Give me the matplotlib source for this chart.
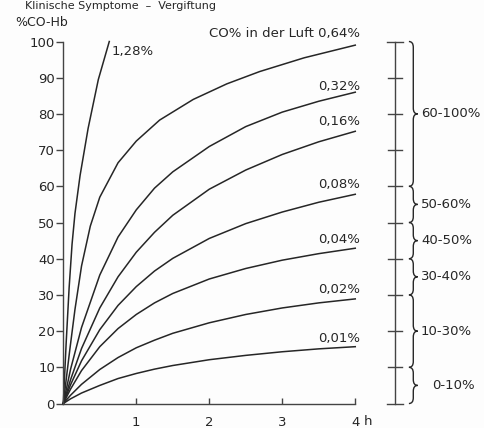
import matplotlib.pyplot as plt
from matplotlib.path import Path
from matplotlib.patches import PathPatch
from matplotlib.transforms import blended_transform_factory

# time in hours and %CO-Hb
t_128 = [0, 0.04, 0.08, 0.12, 0.16, 0.23, 0.34, 0.48, 0.63]
v_128 = [0, 17, 32, 44, 52.5, 63, 76, 89.5, 100]

t_064 = [0, 0.09, 0.16, 0.25, 0.37, 0.5, 0.75, 1.0, 1.32, 1.78, 2.24, 2.69, 3.3, 4.0]
v_064 = [0, 15, 26, 38, 49, 57, 66.5, 72.5, 78.3, 84, 88.3, 91.7, 95.5, 99]

t_low = [0, 0.1, 0.25, 0.5, 0.75, 1.0, 1.25, 1.5, 2.0, 2.5, 3.0, 3.5, 4.0]
v_032 = [0, 9.5, 21, 35.5, 46, 53.5, 59.5, 64, 71, 76.5, 80.5, 83.5, 86]
v_016 = [0, 6.6, 15.2, 26.4, 35, 41.8, 47.3, 52, 59.2, 64.5, 68.8, 72.3, 75.2]
v_008 = [0, 5.2, 11.8, 20.4, 27.1, 32.3, 36.6, 40.1, 45.6, 49.7, 52.9, 55.6, 57.8]
v_004 = [0, 4.0, 9.1, 15.7, 20.7, 24.6, 27.8, 30.4, 34.4, 37.3, 39.6, 41.4, 42.9]
v_002 = [0, 2.3, 5.3, 9.4, 12.7, 15.4, 17.5, 19.4, 22.3, 24.6, 26.4, 27.8, 28.9]
v_001 = [0, 1.3, 2.9, 5.0, 6.9, 8.3, 9.5, 10.5, 12.1, 13.3, 14.3, 15.1, 15.7]

curve_labels = ["0,32%", "0,16%", "0,08%", "0,04%", "0,02%", "0,01%"]
label_y = [87.5, 77.8, 60.4, 45.2, 31.4, 18.0]

scale_ticks = [0, 10, 20, 30, 40, 50, 60, 70, 80, 90, 100]
ranges = [(60, 100), (50, 60), (40, 50), (30, 40), (10, 30), (0, 10)]
range_labels = ["60-100%", "50-60%", "40-50%", "30-40%", "10-30%", "0-10%"]

ink = "#262626"
plt.rcParams["font.family"] = ["DejaVu Sans"]

fig = plt.figure(figsize=(4.85, 4.28), dpi=100)
fig.patch.set_facecolor("#fdfdfd")
ax = fig.add_axes([0.1305, 0.0572, 0.602, 0.8458])
ax.set_facecolor("none")

lw = 1.1
ax.plot(t_128, v_128, color=ink, lw=lw, clip_on=False)
ax.plot(t_064, v_064, color=ink, lw=lw, clip_on=False)
for v in [v_032, v_016, v_008, v_004, v_002, v_001]:
    ax.plot(t_low, v, color=ink, lw=lw, clip_on=False)

ax.set_xlim(0, 4)
ax.set_ylim(0, 100)
for s in ["top", "right"]:
    ax.spines[s].set_visible(False)
for s in ["left", "bottom"]:
    ax.spines[s].set_color("#444444")
    ax.spines[s].set_linewidth(1.0)

ax.set_yticks(range(0, 101, 10))
ax.tick_params(axis="y", direction="out", length=5, width=1, colors="#444444",
               labelcolor=ink, labelsize=9.5, pad=1)
ax.set_xticks([1, 2, 3, 4])
ax.set_xticklabels(["1", "2", "3", "4"])
ax.set_xticks([4], minor=True)
ax.tick_params(axis="x", which="major", direction="in", length=4, width=1,
               colors="#444444", labelcolor=ink, labelsize=9.5, pad=9)
ax.tick_params(axis="x", which="minor", direction="in", length=10, width=1,
               colors="#444444")

ax.text(4.12, -0.032, "h", transform=blended_transform_factory(ax.transData, ax.transAxes),
        ha="left", va="top", fontsize=9.5, color=ink)

fig.text(15 / 485, 1 - 22 / 428, "%CO-Hb", ha="left", va="center", fontsize=9, color=ink)
fig.text(25 / 485, 0.998, "Klinische Symptome  –  Vergiftung", ha="left", va="top",
         fontsize=8, color=ink)

# curve labels
ax.text(0.66, 97.2, "1,28%", ha="left", va="center", fontsize=9.5, color=ink)
ax.text(4.07, 102.3, "CO% in der Luft 0,64%", ha="right", va="center", fontsize=9.5,
        color=ink, clip_on=False)
for lab, y in zip(curve_labels, label_y):
    ax.text(4.07, y, lab, ha="right", va="center", fontsize=9.5, color=ink)

# right-hand scale with brackets
xs = 4.544
ax.plot([xs, xs], [0, 100], color="#444444", lw=1.0, clip_on=False)
for y in scale_ticks:
    half = 0.11 if y in (0, 100) else 0.1
    ax.plot([xs - half, xs + half], [y, y], color="#444444", lw=1.0, clip_on=False)


def brace(x, y0, y1, w=0.12, h=1.6):
    ym = (y0 + y1) / 2
    xm = x + w / 2
    verts = [(x, y0), (xm, y0), (xm, y0 + h), (xm, ym - h), (xm, ym), (x + w, ym),
             (xm, ym), (xm, ym + h), (xm, y1 - h), (xm, y1), (x, y1)]
    codes = [Path.MOVETO, Path.CURVE3, Path.CURVE3, Path.LINETO, Path.CURVE3, Path.CURVE3,
             Path.CURVE3, Path.CURVE3, Path.LINETO, Path.CURVE3, Path.CURVE3]
    ax.add_patch(PathPatch(Path(verts, codes), fill=False, ec=ink, lw=1.0, clip_on=False))


for (a, b), lab in zip(ranges, range_labels):
    brace(4.735, a, b)
    xl = 5.05 if a == 0 else 4.9
    ax.text(xl, (a + b) / 2, lab, ha="left", va="center", fontsize=9.5, color=ink,
            clip_on=False)

fig.savefig("out.png", dpi=100, facecolor=fig.get_facecolor())
